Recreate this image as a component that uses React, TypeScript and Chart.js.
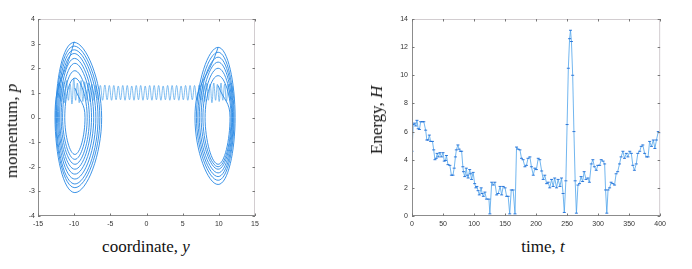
import React, { useEffect, useRef } from "react";
import { Chart, registerables } from "chart.js";

Chart.register(...registerables);

// ---------- Left panel: phase portrait (coordinate y, momentum p) ----------
const phaseXTicks = [-15, -10, -5, 0, 5, 10, 15];
const phaseYTicks = [-4, -3, -2, -1, 0, 1, 2, 3, 4];

// left well spiral: top, right, bottom, left points of each turn
const leftLoopY = [
  -9.9, -8.5, -9.9, -11.3,
  -9.9, -8.2, -9.9, -11.6,
  -9.9, -7.9, -9.9, -11.8,
  -9.9, -7.6, -9.9, -12.0,
  -9.95, -7.3, -9.9, -12.15,
  -10.0, -7.0, -9.9, -12.3,
  -10.0, -6.7, -9.9, -12.45,
  -10.0, -6.45, -9.9, -12.55,
  -10.0, -6.2, -9.9, -12.65,
  -10.0,
];
const leftLoopP = [
  1.2, 0, -1.5, 0,
  1.6, 0, -1.7, 0,
  1.9, -0.05, -1.9, 0,
  2.2, 0, -2.1, 0,
  2.4, 0, -2.3, 0,
  2.6, 0, -2.5, 0,
  2.75, 0, -2.7, 0,
  2.9, 0, -2.85, 0,
  3.05, 0, -3.05, 0,
  3.08,
];

// right well spiral
const rightLoopY = [
  9.9, 11.55, 9.9, 8.1,
  9.9, 11.7, 9.9, 7.8,
  9.9, 11.8, 9.9, 7.55,
  9.9, 11.9, 9.9, 7.3,
  9.9, 12.0, 9.9, 7.1,
  9.9, 12.1, 9.9, 6.9,
  9.9, 12.25, 9.9, 6.7,
  9.9,
];
const rightLoopP = [
  1.3, 0, -1.9, 0,
  1.7, 0, -2.0, 0,
  2.0, 0, -2.1, 0,
  2.25, 0, -2.25, 0,
  2.45, 0, -2.4, 0,
  2.65, 0, -2.55, 0,
  2.85, 0, -2.72, 0,
  2.85,
];

// oscillating bridge between the wells
const bridgeY = [
  -7.0, -6.69, -6.38, -6.07, -5.76, -5.45, -5.14, -4.83, -4.52, -4.21,
  -3.9, -3.59, -3.28, -2.97, -2.66, -2.35, -2.04, -1.73, -1.42, -1.11,
  -0.8, -0.49, -0.18, 0.13, 0.44, 0.75, 1.06, 1.37, 1.68, 1.99,
  2.3, 2.61, 2.92, 3.23, 3.54, 3.85, 4.16, 4.47, 4.78, 5.09,
  5.4, 5.71, 6.02, 6.33, 6.64, 6.95, 7.26,
];
const bridgeP = [
  1.3, 0.72, 1.3, 0.7, 1.32, 0.72, 1.3, 0.7, 1.3, 0.72,
  1.28, 0.72, 1.3, 0.7, 1.3, 0.72, 1.28, 0.7, 1.3, 0.72,
  1.3, 0.7, 1.28, 0.72, 1.3, 0.7, 1.3, 0.72, 1.3, 0.7,
  1.28, 0.72, 1.3, 0.7, 1.3, 0.72, 1.3, 0.7, 1.28, 0.72,
  1.3, 0.7, 1.3, 0.72, 1.3, 0.7, 1.32,
];

// wiggles inside the wells
const leftWiggleY = [
  -12.3, -12.05, -11.8, -11.55, -11.3, -11.05, -10.8, -10.55, -10.3, -10.05,
  -9.8, -9.55, -9.3, -9.05, -8.8, -8.55, -8.3, -8.05, -7.8, -7.55, -7.3, -7.05,
];
const leftWiggleP = [
  0.8, 1.4, 0.65, 1.45, 0.6, 1.5, 0.7, 1.35, 0.55, 1.6,
  0.7, 1.4, 0.6, 1.5, 0.65, 1.45, 0.7, 1.4, 0.65, 1.35, 0.7, 1.3,
];
const rightWiggleY = [
  7.3, 7.55, 7.8, 8.05, 8.3, 8.55, 8.8, 9.05, 9.3, 9.55,
  9.8, 10.05, 10.3, 10.55, 10.8, 11.05, 11.3, 11.55, 11.8, 12.05,
];
const rightWiggleP = [
  1.3, 0.7, 1.35, 0.65, 1.4, 0.7, 1.35, 0.6, 1.4, 0.7,
  1.35, 0.65, 1.4, 0.7, 1.35, 0.65, 1.35, 0.7, 1.3, 0.8,
];

// ---------- Right panel: energy vs time ----------
const energyXTicks = [0, 50, 100, 150, 200, 250, 300, 350, 400];
const energyYTicks = [0, 2, 4, 6, 8, 10, 12, 14];

const timeT = [
  0, 2, 4, 6, 8, 10, 12, 14, 17, 19, 22, 24, 26, 28, 30, 33, 35, 37, 39, 40.5,
  42.5, 45, 47.5, 50, 52, 54, 55.5, 58, 61, 63.5, 66, 68, 70, 71.5, 74, 76, 78, 80, 82, 83,
  85, 87.5, 89, 90.5, 93, 94.5, 96, 98.5, 101, 103, 104.5, 106.5, 108.5, 111.5, 113, 115, 117.5, 120, 124, 125.5,
  128.5, 131, 133.5, 136.5, 139, 142, 144.5, 147, 150, 152.5, 155, 157.5, 160, 163, 166, 168.5, 171, 174, 176.5, 179,
  182, 184.5, 187, 190, 192.5, 195.5, 198, 200.5, 203.5, 206, 209, 211.5, 214, 217, 219.5, 222, 225, 227.5, 230, 233,
  235.5, 238.5, 241, 243.5, 245.5, 248, 250, 252, 254, 255.5, 257, 259, 261, 263, 265, 267.5, 270, 272.5, 275, 277.5,
  280.5, 283.5, 286, 289, 291.5, 294, 297, 299.5, 302.5, 305, 308, 310.5, 312, 314, 316, 318.5, 321, 323.5, 326.5, 329,
  331.5, 334.5, 337, 340, 342.5, 345.5, 348, 351, 353.5, 356, 358.5, 361.5, 364, 367, 369.5, 372, 375, 378, 380.5, 383,
  386, 389, 391.5, 394, 397, 400,
];
const energyH = [
  4.6, 6.5, 6.6, 6.4, 6.8, 6.2, 6.15, 6.7, 6.7, 6.7, 6.1, 5.4, 5.4, 5.75, 5.3, 5.3, 4.7, 4.0, 4.1, 4.45,
  4.2, 4.5, 4.2, 4.5, 3.9, 3.95, 4.3, 3.65, 3.6, 2.9, 2.9, 3.4, 4.2, 4.7, 5.05, 4.75, 4.6, 4.6, 3.5, 3.15,
  2.8, 3.4, 2.9, 2.7, 3.3, 3.0, 2.6, 3.1, 2.3, 2.0, 2.1, 1.8, 1.5, 2.0, 1.6, 1.4, 1.7, 1.2, 1.2, 0.15,
  2.4, 2.2, 2.4, 1.5, 1.6, 2.1, 1.5, 2.1, 2.0, 1.4, 1.4, 0.15, 1.85, 1.85, 0.15, 4.9, 4.75, 4.7, 4.1, 4.0,
  3.5, 3.6, 4.1, 4.2, 3.5, 2.9, 3.4, 3.3, 4.1, 4.0, 3.2, 2.6, 2.9, 2.3, 2.4, 2.0, 2.6, 2.1, 2.7, 2.0,
  2.6, 2.1, 2.7, 1.6, 0.25, 2.5, 6.5, 10.5, 12.6, 13.2, 12.4, 10.0, 6.0, 2.5, 0.2, 2.2, 2.3, 2.8, 2.45, 3.15,
  2.6, 2.7, 2.4, 3.7, 4.0, 3.5, 3.25, 3.6, 3.6, 4.0, 3.9, 3.7, 1.85, 0.2, 1.85, 2.0, 2.4, 2.3, 2.2, 3.0,
  3.15, 3.7, 4.2, 4.6, 4.1, 4.45, 4.2, 4.6, 4.45, 3.6, 3.25, 3.7, 4.45, 4.6, 4.95, 5.05, 4.45, 4.2, 4.2, 5.3,
  4.95, 5.4, 4.8, 5.4, 6.0, 5.9,
];

const LINE = "rgba(40,136,228,0.9)";
const LINE2 = "rgba(80,165,235,0.9)";
const TICK_FONT = { family: "'Liberation Sans', Arial, sans-serif", size: 7 };

const pts = (xs: number[], ys: number[]) => xs.map((x, i) => ({ x, y: ys[i] }));

const boxPlugin = {
  id: "boxTicks",
  afterDraw(chart: any) {
    const { ctx, chartArea: a, scales } = chart;
    ctx.save();
    ctx.lineWidth = 1;
    ctx.strokeStyle = "#d2cdd0";
    ctx.beginPath();
    ctx.moveTo(a.left, a.top + 0.5);
    ctx.lineTo(a.right - 0.5, a.top + 0.5);
    ctx.lineTo(a.right - 0.5, a.bottom);
    ctx.stroke();
    ctx.strokeStyle = "#8c8c8c";
    ctx.beginPath();
    ctx.moveTo(a.left + 0.5, a.top);
    ctx.lineTo(a.left + 0.5, a.bottom - 0.5);
    ctx.lineTo(a.right, a.bottom - 0.5);
    ctx.stroke();
    ctx.strokeStyle = "#777";
    const xs = scales.x, ys = scales.y;
    ctx.beginPath();
    xs.ticks.forEach((t: any) => {
      const px = Math.round(xs.getPixelForValue(t.value)) + 0.5;
      ctx.moveTo(px, a.bottom);
      ctx.lineTo(px, a.bottom - 2.5);
      ctx.moveTo(px, a.top);
      ctx.lineTo(px, a.top + 2.5);
    });
    ys.ticks.forEach((t: any) => {
      const py = Math.round(ys.getPixelForValue(t.value)) + 0.5;
      ctx.moveTo(a.left, py);
      ctx.lineTo(a.left + 2.5, py);
      ctx.moveTo(a.right, py);
      ctx.lineTo(a.right - 2.5, py);
    });
    ctx.stroke();
    ctx.restore();
  },
};

function axes(xMin: number, xMax: number, xStep: number, yMin: number, yMax: number, yStep: number, ypad: number) {
  return {
    x: {
      type: "linear",
      min: xMin,
      max: xMax,
      ticks: { stepSize: xStep, font: TICK_FONT, color: "#333", padding: 4, maxRotation: 0 },
      grid: { display: false, drawTicks: false },
      border: { display: false },
      afterFit: (s: any) => { s.height = 12; },
    },
    y: {
      type: "linear",
      min: yMin,
      max: yMax,
      ticks: { stepSize: yStep, font: TICK_FONT, color: "#333", padding: ypad },
      grid: { display: false, drawTicks: false },
      border: { display: false },
      afterFit: (s: any) => { s.width = 20; },
    },
  };
}

function PhaseChart() {
  const ref = useRef<HTMLCanvasElement>(null);
  useEffect(() => {
    const ds = (data: any, color: string, tension: number, w: number) => ({
      data, borderColor: color, borderWidth: w, pointRadius: 0, showLine: true, tension, fill: false,
    });
    const chart = new Chart(ref.current!, {
      type: "scatter",
      data: {
        datasets: [
          ds(pts(leftLoopY, leftLoopP), LINE, 0.5, 1),
          ds(pts(rightLoopY, rightLoopP), LINE, 0.5, 1),
          ds(pts(leftWiggleY, leftWiggleP), LINE2, 0.4, 0.8),
          ds(pts(rightWiggleY, rightWiggleP), LINE2, 0.4, 0.8),
          ds(pts(bridgeY, bridgeP), LINE2, 0.4, 0.8),
        ],
      },
      options: {
        animation: false,
        responsive: false,
        devicePixelRatio: 1,
        layout: { padding: { left: 18, top: 19, right: 10, bottom: 4 } },
        plugins: { legend: { display: false }, tooltip: { enabled: false } },
        scales: axes(-15, 15, 5, -4, 4, 1, 3) as any,
      } as any,
      plugins: [boxPlugin],
    });
    return () => chart.destroy();
  }, []);
  return <canvas ref={ref} width={265} height={232} style={{ position: "absolute", left: 0, top: 0 }} />;
}

function EnergyChart() {
  const ref = useRef<HTMLCanvasElement>(null);
  useEffect(() => {
    const chart = new Chart(ref.current!, {
      type: "scatter",
      data: {
        datasets: [
          {
            data: pts(timeT, energyH),
            borderColor: LINE2,
            borderWidth: 0.9,
            pointRadius: 1.5,
            pointStyle: "line",
            pointBorderColor: "rgba(30,110,215,0.9)",
            pointBorderWidth: 1,
            showLine: true,
            tension: 0,
          },
        ],
      },
      options: {
        animation: false,
        responsive: false,
        devicePixelRatio: 1,
        layout: { padding: { left: 32, top: 19, right: 9, bottom: 4 } },
        plugins: { legend: { display: false }, tooltip: { enabled: false } },
        scales: axes(0, 400, 50, 0, 14, 2, 4) as any,
      } as any,
      plugins: [boxPlugin],
    });
    return () => chart.destroy();
  }, []);
  return <canvas ref={ref} width={310} height={232} style={{ position: "absolute", left: 360, top: 0 }} />;
}

const titleStyle: React.CSSProperties = {
  position: "absolute",
  fontFamily: "'Liberation Serif', 'Times New Roman', serif",
  fontSize: 17,
  color: "#111",
  whiteSpace: "nowrap",
  lineHeight: "20px",
};

function Title({ x, y, rot, children }: { x: number; y: number; rot?: boolean; children: React.ReactNode }) {
  return (
    <div style={{ ...titleStyle, left: x, top: y, transform: `translate(-50%, -50%)${rot ? " rotate(-90deg)" : ""}` }}>
      {children}
    </div>
  );
}

export default function App() {
  return (
    <div style={{ position: "absolute", left: 0, top: 0, width: 692, height: 269, background: "#fff", overflow: "hidden" }}>
      <PhaseChart />
      <EnergyChart />
      <Title x={12} y={131} rot>momentum, <i>p</i></Title>
      <Title x={146} y={247}>coordinate, <i>y</i></Title>
      <Title x={377} y={120} rot>Energy, <i>H</i></Title>
      <Title x={543} y={247}>time, <i>t</i></Title>
    </div>
  );
}
